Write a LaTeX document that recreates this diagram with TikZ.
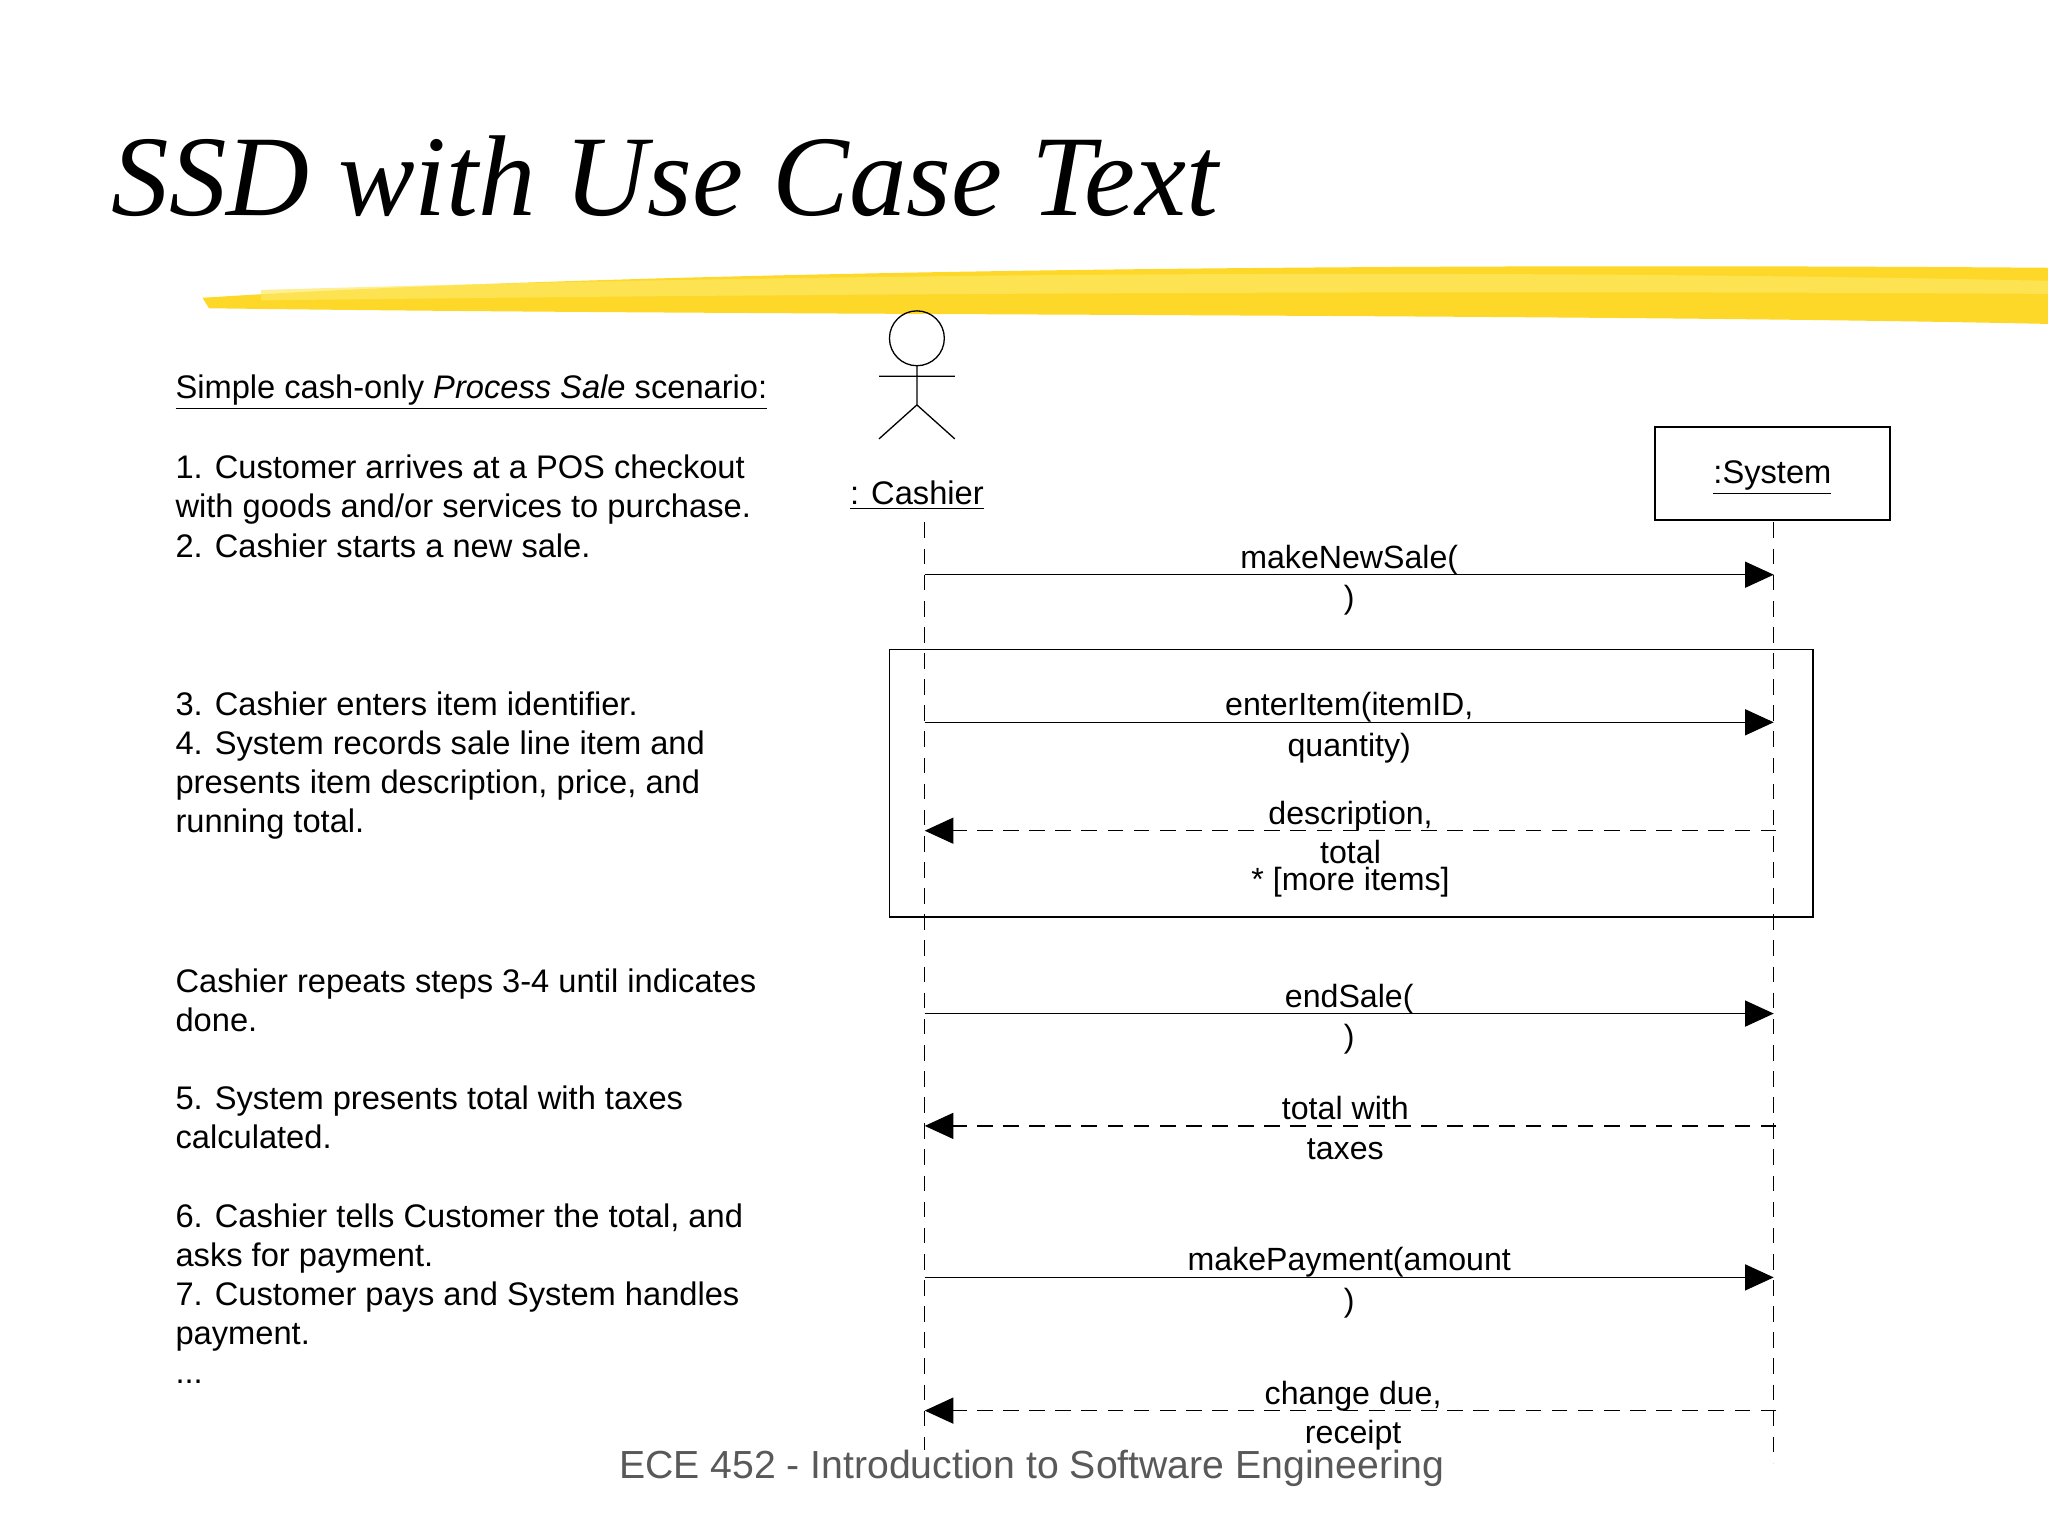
\documentclass[tikz,border=0pt]{standalone}
\usepackage{fontspec}
\setmainfont{Liberation Sans}
\newfontfamily\titlefont{Liberation Serif}
\usetikzlibrary{arrows.meta}
\begin{document}
\begin{tikzpicture}[x=0.5pt,y=-0.5pt,
  txt/.style={font=\fontsize{12.5}{15}\selectfont,inner sep=0pt},
  lbl/.style={font=\fontsize{12.3}{15}\selectfont,inner sep=0pt,align=center},
  life/.style={dash pattern=on 6pt off 4pt,line width=0.4pt},
  msg/.style={line width=0.5pt,-{Triangle[length=11pt,width=10pt]}},
  ret/.style={line width=0.5pt,dash pattern=on 6pt off 4pt,-{Triangle[length=11pt,width=10pt]}}]
\useasboundingbox (0,0) rectangle (1568,1174);
\fill[white] (0,0) rectangle (1568,1174);
% brush stroke
\fill[yellow!70!orange!85] (155,228) .. controls (400,212) and (900,200) .. (1568,205) -- (1568,248) .. controls (1200,240) and (600,242) .. (160,236) -- cycle;
\fill[yellow!80!orange!60,opacity=0.7] (200,222) .. controls (600,210) and (1100,205) .. (1568,215) -- (1568,225) .. controls (1100,222) and (600,225) .. (200,230) -- cycle;
\node[anchor=base west,inner sep=0pt,font=\titlefont\itshape\fontsize{44}{50}\selectfont] (title) at (85,165) {SSD with Use Case Text};
% left text
\node[txt,anchor=base west] (head) at (134,305) {\underline{Simple cash-only \textit{Process Sale} scenario:}};
\node[txt,anchor=north west,align=left] (s1) at (134,348) {1. Customer arrives at a POS checkout\\with goods and/or services to purchase.\\2. Cashier starts a new sale.};
\node[txt,anchor=north west,align=left] (s3) at (134,529) {3. Cashier enters item identifier.\\4. System records sale line item and\\presents item description, price, and\\running total.};
\node[txt,anchor=north west,align=left] (s5) at (134,741) {Cashier repeats steps 3-4 until indicates\\done.};
\node[txt,anchor=north west,align=left] (s6) at (134,831) {5. System presents total with taxes\\calculated.};
\node[txt,anchor=north west,align=left] (s7) at (134,921) {6. Cashier tells Customer the total, and\\asks for payment.\\7. Customer pays and System handles\\payment.\\...};
% footer
\node[anchor=base,inner sep=0pt,text=black!65,font=\fontsize{15}{18}\selectfont] (foot) at (790,1132) {ECE 452 - Introduction to Software Engineering};
% actor
\draw[line width=0.5pt] (702,259) circle (21);
\coordinate (neck) at (702,280); \coordinate (hip) at (702,310);
\draw[line width=0.5pt] (neck)--(hip) (673,288)--(731,288) (hip)--(673,336) (hip)--(731,336);
\node[txt,anchor=base] (cashier) at (702,386) {\underline{: Cashier}};
\node[draw,line width=0.5pt,minimum width=90pt,minimum height=35.5pt,inner sep=0pt] (sys) at (1357,362.5) {};
\node[txt,anchor=base] (systxt) at (1357,370) {\underline{:System}};
% lifelines
\coordinate (ct) at (708,400); \coordinate (cb) at (708,1110);
\coordinate (st) at (1358,400); \coordinate (sb) at (1358,1120);
\draw[life] (ct)--(cb); \draw[life] (st)--(sb);
% loop
\node[draw,line width=0.5pt,minimum width=353.5pt,minimum height=102.5pt,inner sep=0pt] (loop) at (1034.5,599.5) {};
% messages
\foreach \y/\n in {440/a,553/b,776/d,978/f}{\coordinate (l\n) at (708,\y); \coordinate (r\n) at (1358,\y);}
\foreach \y/\n in {636/c,862/e,1080/g}{\coordinate (l\n) at (708,\y); \coordinate (r\n) at (1360,\y);}
\draw[msg] (la)--(ra); \draw[msg] (lb)--(rb); \draw[msg] (ld)--(rd); \draw[msg] (lf)--(rf);
\draw[ret] (rc)--(lc); \draw[ret] (re)--(le); \draw[ret] (rg)--(lg);
\node[lbl,anchor=base] (ma) at (1033,435) {makeNewSale(};
\node[lbl,anchor=base] (ma2) at (1033,466) {)};
\node[lbl,anchor=base] (mb) at (1033,548) {enterItem(itemID,};
\node[lbl,anchor=base] (mb2) at (1033,579) {quantity)};
\node[lbl,anchor=base] (mc) at (1034,631) {description,};
\node[lbl,anchor=base] (mc2) at (1034,661) {total};
\node[lbl,anchor=base] (loopl) at (1034,682) {* [more items]};
\node[lbl,anchor=base] (md) at (1033,771) {endSale(};
\node[lbl,anchor=base] (md2) at (1033,802) {)};
\node[lbl,anchor=base] (me) at (1030,857) {total with};
\node[lbl,anchor=base] (me2) at (1030,888) {taxes};
\node[lbl,anchor=base] (mf) at (1033,973) {makePayment(amount};
\node[lbl,anchor=base] (mf2) at (1033,1004) {)};
\node[lbl,anchor=base] (mg) at (1036,1075) {change due,};
\node[lbl,anchor=base] (mg2) at (1036,1105) {receipt};
\end{tikzpicture}
\end{document}
